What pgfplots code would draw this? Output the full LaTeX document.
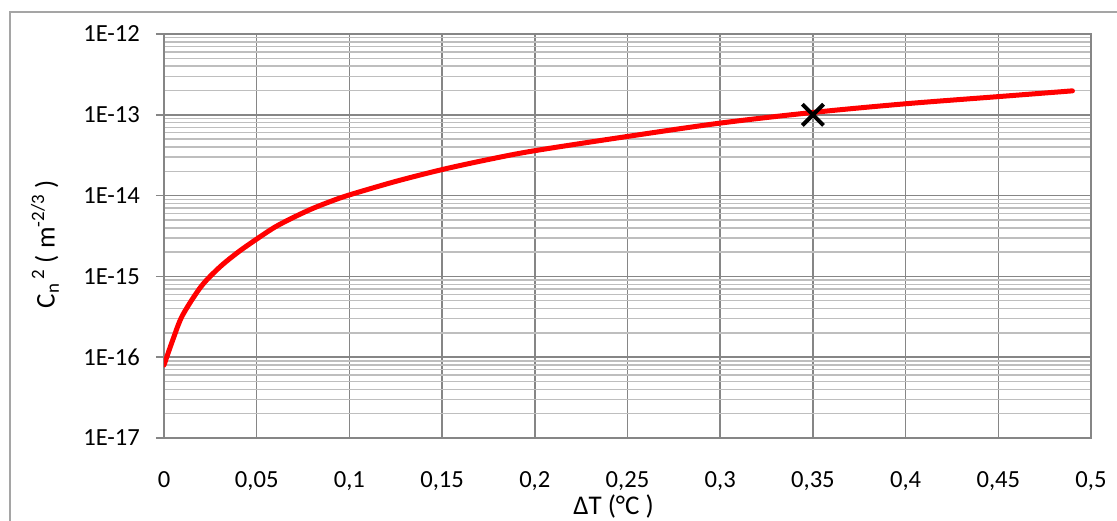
\documentclass[border=0pt]{standalone}
\usepackage{pgfplots}
\pgfplotsset{compat=1.18}
\usepackage{fontspec}
\setmainfont{Carlito}
\definecolor{majgrid}{RGB}{134,134,134}
\definecolor{mingrid}{RGB}{190,190,190}
\definecolor{framegray}{RGB}{165,165,165}
\begin{document}
\begin{tikzpicture}
\begin{axis}[
  scale only axis, width=463.5pt, height=202pt,
  ymode=log, xmin=0, xmax=0.5, ymin=1e-17, ymax=1e-12,
  /pgf/number format/assume math mode=true,
  tick label style={font=\fontsize{12.3}{14}\selectfont},
  label style={font=\fontsize{13.5}{16}\selectfont},
  xtick={0,0.05,0.1,0.15,0.2,0.25,0.3,0.35,0.4,0.45,0.5},
  xticklabels={0,{0,05},{0,1},{0,15},{0,2},{0,25},{0,3},{0,35},{0,4},{0,45},{0,5}},
  ytick={1e-17,1e-16,1e-15,1e-14,1e-13,1e-12},
  yticklabels={1E-17,1E-16,1E-15,1E-14,1E-13,1E-12},
  minor ytick={2e-17,3e-17,4e-17,5e-17,6e-17,7e-17,8e-17,9e-17,
               2e-16,3e-16,4e-16,5e-16,6e-16,7e-16,8e-16,9e-16,
               2e-15,3e-15,4e-15,5e-15,6e-15,7e-15,8e-15,9e-15,
               2e-14,3e-14,4e-14,5e-14,6e-14,7e-14,8e-14,9e-14,
               2e-13,3e-13,4e-13,5e-13,6e-13,7e-13,8e-13,9e-13},
  xmajorgrids, ymajorgrids, yminorgrids,
  major grid style={majgrid, line width=0.8pt},
  minor grid style={mingrid, line width=0.75pt},
  axis line style={majgrid, line width=0.8pt},
  xtick style={draw=none},
  ytick style={majgrid, line width=0.8pt},
  minor tick length=0pt,
  major tick length=4pt,
  tick align=outside,
  xtick pos=bottom, ytick pos=left,
  yticklabel style={xshift=-4.5pt},
  xticklabel style={yshift=-9pt},
  xlabel={ΔT (°C )},
  xlabel style={at={(rel axis cs:0.485,0)}, anchor=center, yshift=-34pt},
  ylabel={C\textsubscript{n}\textsuperscript{\,2} ( m\textsuperscript{-2/3} )},
  ylabel style={at={(rel axis cs:0,0.48)}, anchor=center, yshift=59.5pt},
]
\addplot[red, line width=2.5pt, line join=round, line cap=round, smooth, tension=0.5] coordinates {
  (0,8e-17) (0.005,1.7e-16) (0.01,3.3e-16) (0.02,7.5e-16) (0.03,1.3e-15)
  (0.04,2.0e-15) (0.05,2.9e-15) (0.06,4.1e-15) (0.07,5.4e-15) (0.08,6.9e-15)
  (0.09,8.5e-15) (0.1,1.02e-14) (0.125,1.5e-14) (0.15,2.1e-14) (0.175,2.8e-14)
  (0.2,3.6e-14) (0.25,5.4e-14) (0.3,7.9e-14) (0.35,1.07e-13) (0.4,1.37e-13)
  (0.45,1.68e-13) (0.49,1.98e-13)
};
\addplot[only marks, mark=x, mark size=7.5pt, mark options={black, line width=2pt}] coordinates {(0.35,1e-13)};
\end{axis}
\draw[framegray, line width=0.75pt] (-77pt,-60pt) -- (-77pt,213pt) -- (500pt,213pt);
\pgfresetboundingbox
\path[use as bounding box] (-82pt,-41pt) rectangle (476.5pt,219pt);
\end{tikzpicture}
\end{document}
